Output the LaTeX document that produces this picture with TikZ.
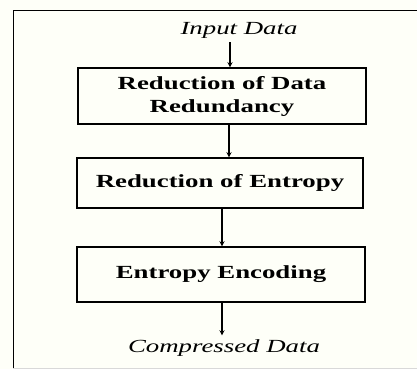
\documentclass[tikz,border=0pt]{standalone}
\usepackage{fontspec}
\setmainfont{Liberation Serif}[FakeStretch=1.45]
\usepackage{tikz}
\usetikzlibrary{arrows}

\definecolor{paper}{RGB}{254,255,248}

\tikzset{
  stage/.style={draw, line width=1.3pt, minimum width=288pt, align=center,
    font=\fontsize{18.5}{23}\selectfont\bfseries, inner sep=0pt},
  ends/.style={font=\fontsize{18.5}{22}\selectfont\itshape, inner sep=4pt},
}

\begin{document}
\begin{tikzpicture}[x=1pt,y=-1pt,>=stealth]
\fill[paper] (0,0) rectangle (417,369);
\useasboundingbox (0,0) rectangle (417,369);
\draw[line width=0.9pt] (417,10) -- (13,10) -- (13,369);
\draw[black!15, line width=0.6pt] (13,368) -- (417,368);

\node[ends] (in) at (239,30) {Input Data};
\node[stage, minimum height=56pt] (r1) at (222,96) {Reduction of Data\\Redundancy};
\node[stage, minimum height=50pt, minimum width=286pt] (r2) at (220,183) {Reduction of Entropy};
\node[stage, minimum height=55pt] (r3) at (221,274.5) {Entropy Encoding};
\node[ends] (out) at (224,348) {Compressed Data};

\foreach \from/\to/\x in {in/r1/230,r1/r2/229,r2/r3/222,r3/out/222}
  \draw[->, line width=1.3pt] (\from.south -| \x,0) -- (\to.north -| \x,0);
\end{tikzpicture}
\end{document}
